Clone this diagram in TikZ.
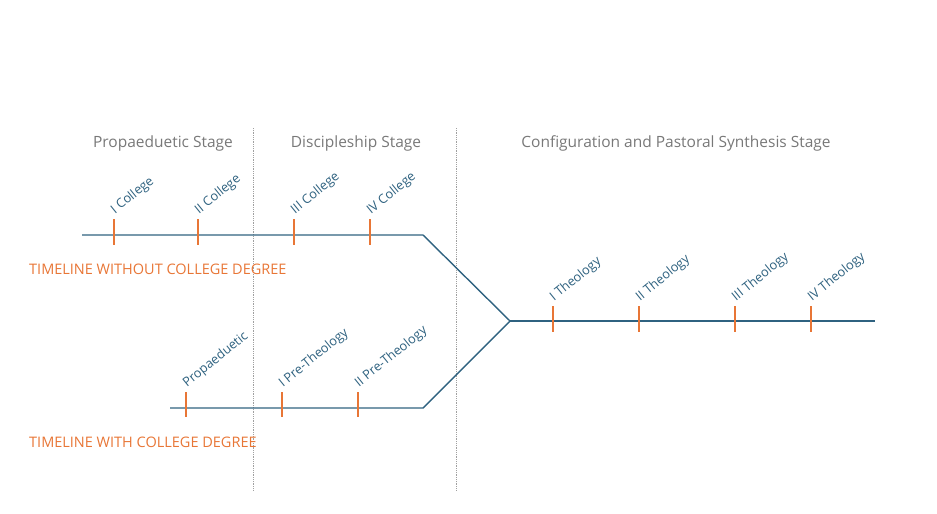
\documentclass[tikz,border=0pt]{standalone}
\usepackage{fontspec}
\setmainfont{Open Sans}
\usetikzlibrary{positioning}
\definecolor{lineblue}{RGB}{47,98,128}
\definecolor{tickorange}{RGB}{232,118,54}
\definecolor{stagegray}{RGB}{120,120,120}
\tikzset{
  timeline/.style={draw=lineblue, line width=1.4pt},
  tickmark/.style={draw=tickorange, line width=1.4pt},
  divider/.style={draw=stagegray!70, densely dotted, line width=0.8pt},
  stage/.style={text=stagegray, font=\fontsize{15.5}{17}\selectfont, inner sep=0pt},
  track/.style={text=tickorange, font=\fontsize{14.5}{16}\selectfont, inner sep=0pt, anchor=west},
  yearlab/.style={text=lineblue, font=\fontsize{12.8}{14}\selectfont, inner sep=0pt, rotate=39, anchor=south west}
}
\begin{document}
\begin{tikzpicture}[x=1pt, y=-1pt]
  \useasboundingbox (0,0) rectangle (937,514);

  % stage dividers
  \coordinate (d1top) at (253,128);
  \coordinate (d1bot) at (253,490);
  \coordinate (d2top) at (456,128);
  \coordinate (d2bot) at (456,490);
  \draw [divider] (d1top) -- (d1bot);
  \draw [divider] (d2top) -- (d2bot);

  % stage titles
  \node (propstage) [stage] at (163,143) {Propaeduetic Stage};
  \node (discstage) [stage] at (356,143) {Discipleship Stage};
  \node (confstage) [stage] at (676,143) {Configuration and Pastoral Synthesis Stage};

  % timelines
  \coordinate (upstart) at (82,235);
  \coordinate (upbend) at (423,235);
  \coordinate (lowstart) at (170,408);
  \coordinate (lowbend) at (423,408);
  \coordinate (merge) at (510,321);
  \coordinate (finish) at (875,321);
  \draw [timeline] (upstart) -- (upbend) -- (merge);
  \draw [timeline] (lowstart) -- (lowbend) -- (merge);
  \draw [timeline] (merge) -- (finish);

  % track names
  \node (without) [track] at (29,269) {TIMELINE WITHOUT COLLEGE DEGREE};
  \node (with) [track] at (29,442) {TIMELINE WITH COLLEGE DEGREE};

  % years
  \foreach \x/\lab in {114/I College, 198/II College, 294/III College, 370/IV College} {
    \draw [tickmark] (\x,219) -- (\x,245);
    \node [yearlab] at (\x+3,217) {\lab};
  }
  \foreach \x/\lab in {186/Propaeduetic, 282/I Pre-Theology, 358/II Pre-Theology} {
    \draw [tickmark] (\x,392) -- (\x,417);
    \node [yearlab] at (\x+3,390) {\lab};
  }
  \foreach \x/\lab in {553/I Theology, 639/II Theology, 735/III Theology, 811/IV Theology} {
    \draw [tickmark] (\x,306) -- (\x,332);
    \node [yearlab] at (\x+3,304) {\lab};
  }
\end{tikzpicture}
\end{document}
